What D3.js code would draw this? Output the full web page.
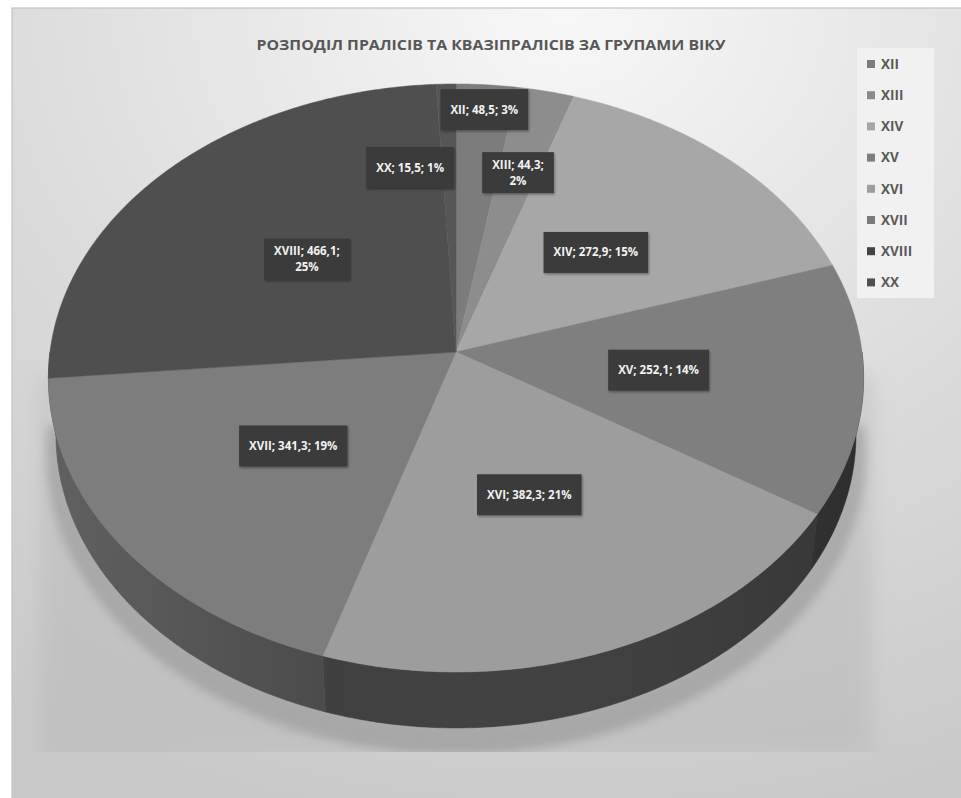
<!DOCTYPE html>
<html>
<head>
<meta charset="utf-8">
<script src="https://cdn.jsdelivr.net/npm/d3@7"></script>
<style>
  body { margin: 0; background: #fff; }
  svg { display: block; font-family: "Open Sans", "DejaVu Sans", sans-serif; }
</style>
</head>
<body>
<div id="chart"></div>
<script>
// data
const categories = ["XII", "XIII", "XIV", "XV", "XVI", "XVII", "XVIII", "XX"];
const values = [48.5, 44.3, 272.9, 252.1, 382.3, 341.3, 466.1, 15.5];
const percentLabels = ["3%", "2%", "15%", "14%", "21%", "19%", "25%", "1%"];
const colors = ["#7c7c7c", "#8d8d8d", "#a7a7a7", "#7f7f7f", "#9d9d9d", "#7d7d7d", "#4f4f4f", "#565656"];
const legendColors = ["#7b7b7b", "#8b8b8b", "#a5a5a5", "#7d7d7d", "#9d9d9d", "#7a7a7a", "#424242", "#505050"];
const sideColors = ["#353535", "#3a3a3a", "#3e3e3e", "#343434", "#3c3c3c", "#474747", "#444444", "#3f3f3f"];
const title = "РОЗПОДІЛ ПРАЛІСІВ ТА КВАЗІПРАЛІСІВ ЗА ГРУПАМИ ВІКУ";

const width = 961, height = 798;

// 3d view: pie centre on screen, scale, camera distance, tilt, thickness
const cx = 456, cy = 352, s = 406, D = 7.87;
const tilt = Math.asin(0.7185);
const thick = 0.2057;

// label placement tweaks for the narrow slices (like excel "best fit")
const labelR = {XII: 0.9, XIII: 0.67, XX: 0.67};
const labelDx = {XX: -39};
const labelWrap = ["XIII", "XVIII"];

function proj(a, r, y) {
    let xw = r * Math.sin(a), zw = -r * Math.cos(a);
    let depth = D - (zw * Math.cos(tilt) + y * Math.sin(tilt));
    return [cx + s * xw * D / depth, cy + s * (zw * Math.sin(tilt) - y * Math.cos(tilt)) * D / depth];
}

function arcPts(a0, a1, r, y) {
    let n = Math.max(2, Math.ceil((a1 - a0) / (Math.PI / 360)));
    return d3.range(n + 1).map(i => proj(a0 + (a1 - a0) * i / n, r, y));
}

const svg = d3.select("#chart").append("svg")
    .attr("width", width)
    .attr("height", height);

const defs = svg.append("defs");

let bg = defs.append("radialGradient").attr("id", "bg")
    .attr("cx", "58%").attr("cy", "0%").attr("r", "105%");
bg.append("stop").attr("offset", "0%").attr("stop-color", "#f8f8f8");
bg.append("stop").attr("offset", "55%").attr("stop-color", "#dcdcdc");
bg.append("stop").attr("offset", "100%").attr("stop-color", "#c9c9c9");

let sideGrad = defs.append("linearGradient").attr("id", "sideGrad")
    .attr("gradientUnits", "userSpaceOnUse")
    .attr("x1", 49).attr("x2", 864).attr("y1", 0).attr("y2", 0);
sideGrad.append("stop").attr("offset", "0%").attr("stop-color", "#fff").attr("stop-opacity", 0.14);
sideGrad.append("stop").attr("offset", "35%").attr("stop-color", "#fff").attr("stop-opacity", 0.02);
sideGrad.append("stop").attr("offset", "100%").attr("stop-color", "#000").attr("stop-opacity", 0.12);

defs.append("filter").attr("id", "blur").attr("x", "-20%").attr("y", "-20%").attr("width", "140%").attr("height", "140%")
    .append("feGaussianBlur").attr("stdDeviation", 10);
defs.append("filter").attr("id", "blurS").attr("x", "-20%").attr("y", "-20%").attr("width", "140%").attr("height", "140%")
    .append("feGaussianBlur").attr("stdDeviation", 5);
defs.append("filter").attr("id", "boxShadow").attr("x", "-20%").attr("y", "-20%").attr("width", "140%").attr("height", "160%")
    .append("feDropShadow").attr("dx", 1).attr("dy", 1.5).attr("stdDeviation", 1.2)
    .attr("flood-color", "#000").attr("flood-opacity", 0.35);
defs.append("clipPath").attr("id", "floorClip")
    .append("rect").attr("x", 12).attr("y", 8).attr("width", width).attr("height", 744);

// chart area
svg.append("rect")
    .attr("x", 12).attr("y", 8)
    .attr("width", width - 11).attr("height", height - 7)
    .attr("fill", "url(#bg)")
    .attr("stroke", "#c4c4c4")
    .attr("stroke-width", 1.2);

const pie = d3.pie().sort(null).value(d => d);
const arcs = pie(values);
const line = d3.line();

// floor shadow under the pie
let floor = svg.append("g").attr("clip-path", "url(#floorClip)");
let bottomOutline = arcPts(Math.PI / 2 - 0.12, Math.PI * 1.5 + 0.12, 1, -thick);
floor.append("path")
    .attr("d", line([[40, 377], ...bottomOutline.reverse(), [872, 377]].concat([[872, 760], [40, 760]])) + "Z")
    .attr("fill", "#b9b9b9")
    .attr("opacity", 0.55)
    .attr("filter", "url(#blur)");
floor.append("path")
    .attr("d", line(arcPts(Math.PI / 2, Math.PI * 1.5, 1.03, -thick - 0.06)) + "Z")
    .attr("fill", "#8c8c8c")
    .attr("opacity", 0.5)
    .attr("filter", "url(#blurS)");

// side walls (front half only)
let sides = svg.append("g");
arcs.forEach((d, i) => {
    let a0 = Math.max(d.startAngle, Math.PI / 2);
    let a1 = Math.min(d.endAngle, Math.PI * 1.5);
    if (a1 <= a0) return;
    let top = arcPts(a0, a1, 1, 0);
    let bot = arcPts(a0, a1, 1, -thick).reverse();
    sides.append("path")
        .attr("d", line(top.concat(bot)) + "Z")
        .attr("fill", sideColors[i])
        .attr("stroke", sideColors[i])
        .attr("stroke-width", 0.5);
});
sides.append("path")
    .attr("d", line(arcPts(Math.PI / 2, Math.PI * 1.5, 1, 0).concat(arcPts(Math.PI / 2, Math.PI * 1.5, 1, -thick).reverse())) + "Z")
    .attr("fill", "url(#sideGrad)");

// top faces
svg.append("g").selectAll("path")
    .data(arcs)
    .join("path")
    .attr("d", d => line([[cx, cy]].concat(arcPts(d.startAngle, d.endAngle, 1, 0))) + "Z")
    .attr("fill", (d, i) => colors[i])
    .attr("stroke", (d, i) => colors[i])
    .attr("stroke-width", 0.5);

// data labels
const fmt = v => d3.format(".1f")(v).replace(".", ",");
let labels = svg.append("g")
    .attr("font-size", 11.5)
    .attr("font-weight", "bold")
    .attr("fill", "#f2f2f2");

arcs.forEach((d, i) => {
    let cat = categories[i];
    let mid = (d.startAngle + d.endAngle) / 2;
    let p = proj(mid, labelR[cat] || 0.5, 0);
    let x = p[0] + (labelDx[cat] || 0), y = p[1];
    let lines = labelWrap.includes(cat)
        ? [cat + "; " + fmt(values[i]) + ";", percentLabels[i]]
        : [cat + "; " + fmt(values[i]) + "; " + percentLabels[i]];

    let g = labels.append("g");
    let box = g.append("rect").attr("fill", "#3b3b3b").attr("filter", "url(#boxShadow)");
    let texts = lines.map((t, k) => g.append("text")
        .attr("x", x)
        .attr("y", y + (k - (lines.length - 1) / 2) * 16)
        .attr("dy", "0.35em")
        .attr("text-anchor", "middle")
        .text(t));
    let w = d3.max(texts, t => t.node().getComputedTextLength());
    let bw = w + 20, bh = 41;
    box.attr("x", x - bw / 2).attr("y", y - bh / 2).attr("width", bw).attr("height", bh);
});

// legend
let legend = svg.append("g");
legend.append("rect")
    .attr("x", 857).attr("y", 48)
    .attr("width", 77).attr("height", 250)
    .attr("fill", "#f1f1f1");
categories.forEach((c, i) => {
    let y = 64 + i * 31.2;
    legend.append("rect")
        .attr("x", 867).attr("y", y - 4)
        .attr("width", 8).attr("height", 8)
        .attr("fill", legendColors[i]);
    legend.append("text")
        .attr("x", 881).attr("y", y)
        .attr("dy", "0.36em")
        .attr("font-size", 13.5)
        .attr("font-weight", "bold")
        .attr("fill", "#5a5a5a")
        .text(c);
});

// title
svg.append("text")
    .attr("x", 491)
    .attr("y", 45)
    .attr("dy", "0.35em")
    .attr("text-anchor", "middle")
    .attr("font-size", 13.5)
    .attr("font-weight", "bold")
    .attr("fill", "#575757")
    .attr("textLength", 469)
    .attr("lengthAdjust", "spacingAndGlyphs")
    .text(title);
</script>
</body>
</html>
